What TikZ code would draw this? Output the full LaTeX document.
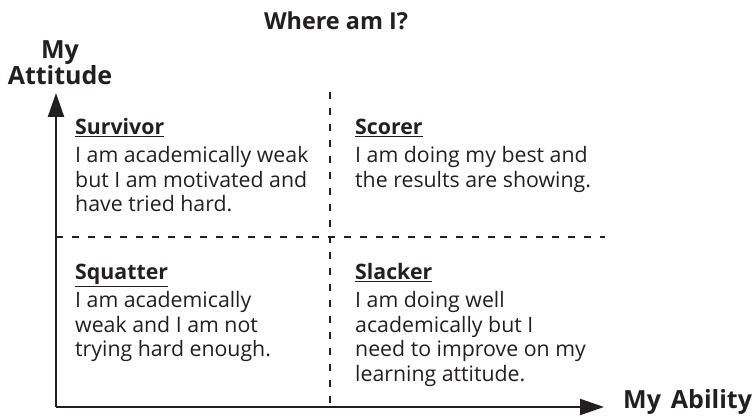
\documentclass[tikz,border=0pt]{standalone}
\usepackage{fontspec}
\setmainfont{Open Sans}
\usetikzlibrary{arrows.meta,positioning}
\definecolor{ink}{HTML}{231F20}
\tikzset{
  axis/.style={draw=ink, line width=2.2pt, -{Triangle[length=24pt,width=16pt]}},
  divider/.style={draw=ink, line width=2.5pt, dash pattern=on 7pt off 9pt},
  axistext/.style={inner sep=0pt, align=center, text=ink, font=\fontsize{25}{26}\selectfont\bfseries},
  quad/.style={anchor=base west, inner sep=0pt, align=left, text=ink, font=\fontsize{21.3}{24.5}\selectfont},
}
\begin{document}
\begin{tikzpicture}[x=1pt, y=-1pt]
\useasboundingbox (0,0) rectangle (753,419);
% axes and dividers
\coordinate (O) at (56,407);
\coordinate (ytop) at (56,93);
\coordinate (xend) at (604,407);
\coordinate (vtop) at (330,92);
\coordinate (vbot) at (330,407);
\coordinate (hleft) at (56,237);
\coordinate (hright) at (605,237);
\draw[divider] (vtop) -- (vbot);
\draw[divider] (hleft) -- (hright);
\draw[axis] (O) -- (ytop);
\draw[axis] (O) -- (xend);
% labels (base = last line)
\node[axistext, anchor=base, font=\fontsize{23.4}{26}\selectfont\bfseries] (title) at (336,30) {Where am I?};
\node[axistext, anchor=base] (ylabel) at (60,85) {My\\Attitude};
\node[axistext, anchor=base west] (xlabel) at (623,409) {My\hspace{0.4em}Ability};
% quadrants
\node[quad] (survivor) at (75,212) {\underline{\textbf{Survivor}}\\[3.5pt]I am academically weak\\but I am motivated and\\have tried hard.};
\node[quad] (scorer) at (355,187.5) {\underline{\textbf{Scorer}}\\[3.5pt]I am doing my best and\\the results are showing.};
\node[quad] (squatter) at (75,357) {\underline{\textbf{Squatter}}\\[3.5pt]I am academically\\weak and I am not\\trying hard enough.};
\node[quad] (slacker) at (355,381.5) {\underline{\textbf{Slacker}}\\[3.5pt]I am doing well\\academically but I\\need to improve on my\\learning attitude.};
\end{tikzpicture}
\end{document}
